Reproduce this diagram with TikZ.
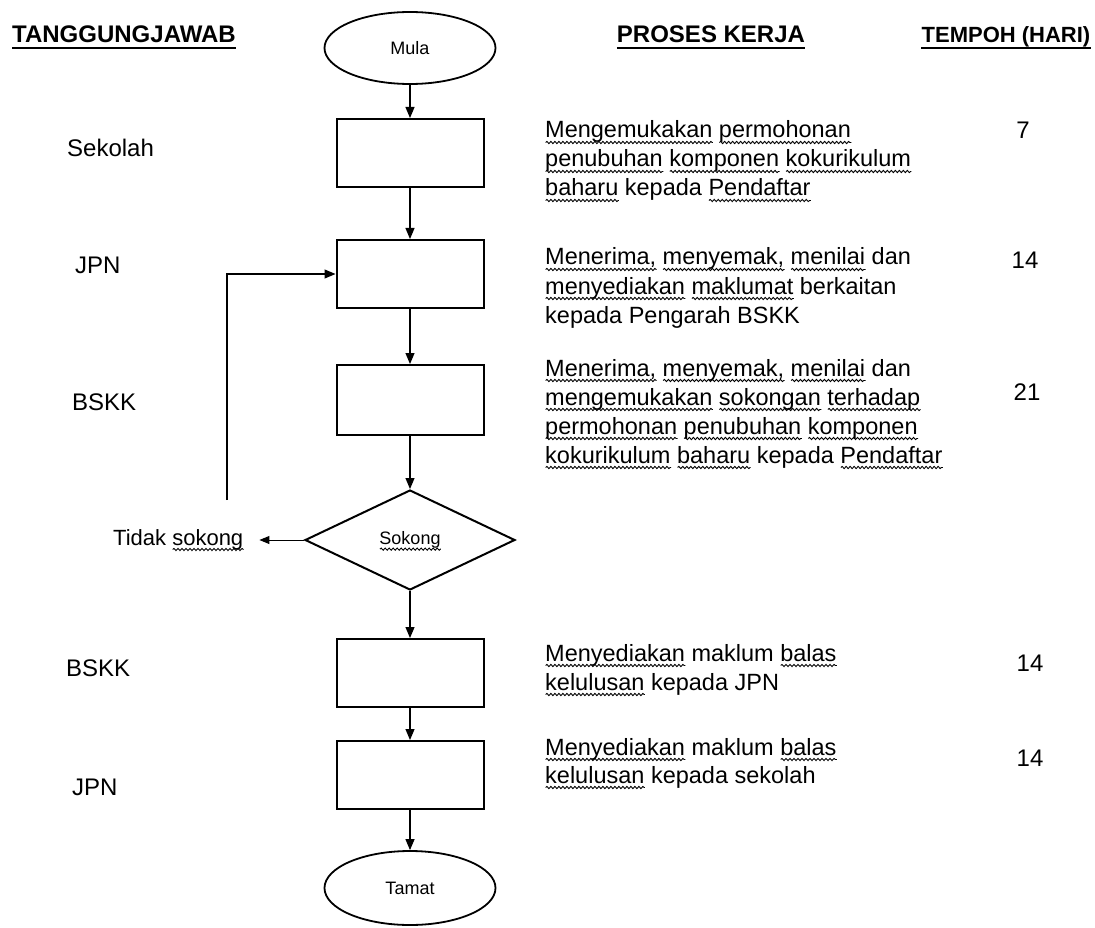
\documentclass[tikz,border=0pt]{standalone}
\usepackage{fontspec}
\setmainfont{Liberation Sans}
\usetikzlibrary{shapes.geometric,arrows.meta,decorations.pathmorphing}
\newsavebox\wvbox
\newcommand{\wv}[1]{\sbox\wvbox{#1}\leavevmode\rlap{\raisebox{-4.5pt}[0pt][0pt]{\tikz[baseline=0pt,x=1pt,y=1pt]\draw[line width=0.9pt,black,decorate,decoration={snake,amplitude=1.1pt,segment length=4pt}] (0,0) -- (\the\wd\wvbox,0);}}\usebox\wvbox}
\begin{document}
\begin{tikzpicture}[x=1pt,y=-1pt,
  lbl/.style={inner sep=0pt,anchor=base west,font=\fontsize{24}{29}\selectfont},
  hdr/.style={inner sep=0pt,font=\fontsize{24}{29}\selectfont\bfseries},
  txt/.style={inner sep=0pt,anchor=base west,font=\fontsize{23.5}{29}\selectfont},
  num/.style={inner sep=0pt,anchor=base,font=\fontsize{24}{29}\selectfont},
  proc/.style={draw,line width=2pt,minimum width=147pt,minimum height=68pt,inner sep=0pt},
  term/.style={draw,ellipse,line width=1.8pt,minimum width=171pt,minimum height=72pt,inner sep=0pt,font=\fontsize{18}{20}\selectfont},
  dec/.style={draw,diamond,line width=2pt,minimum width=210pt,minimum height=100pt,inner sep=0pt,font=\fontsize{18}{20}\selectfont},
  arr/.style={line width=1.2pt,-{Triangle[length=11pt,width=9pt]}},
  arrthin/.style={line width=1pt,-{Triangle[length=10pt,width=8pt]}},
  ul/.style={line width=1.6pt}]
\fill[white] (0,0) rectangle (1095,928);
\useasboundingbox (0,0) rectangle (1095,928);

% headers
\node[hdr,anchor=base west] (h1) at (12,42.5) {TANGGUNGJAWAB};
\node[hdr,anchor=base] (h2) at (711,42.5) {PROSES KERJA};
\node[hdr,anchor=base,font=\fontsize{22}{26}\selectfont\bfseries] (h3) at (1006,42.5) {TEMPOH (HARI)};
\draw[ul] ([yshift=-5.5pt]h1.base west) -- ([yshift=-5.5pt]h1.base east);
\draw[ul] ([yshift=-5.5pt]h2.base west) -- ([yshift=-5.5pt]h2.base east);
\draw[ul] ([yshift=-5.5pt]h3.base west) -- ([yshift=-5.5pt]h3.base east);

% flow shapes
\node[term] (mula) at (410,48) {Mula};
\node[proc] (b1) at (410,153) {};
\node[proc] (b2) at (410,274) {};
\node[proc,minimum height=70pt] (b3) at (410,400) {};
\node[dec] (dia) at (410,540) {\wv{Sokong}};
\node[proc] (b4) at (410,673) {};
\node[proc] (b5) at (410,775) {};
\node[term,minimum height=74pt] (tamat) at (410,888) {Tamat};

% left labels
\node[lbl] (l1) at (67,156.6) {Sekolah};
\node[lbl] (l2) at (75,273.6) {JPN};
\node[lbl] (l3) at (72,410.6) {BSKK};
\node[lbl] (l4) at (66,676.6) {BSKK};
\node[lbl] (l5) at (72,795.6) {JPN};
\node[lbl,font=\fontsize{22}{26}\selectfont] (tidak) at (113,545) {Tidak \wv{sokong}};

% connectors
\draw[arr] (mula) -- (b1);
\draw[arr] (b1) -- (b2);
\draw[arr] (b2) -- (b3);
\draw[arr] (b3) -- (dia);
\draw[arr] (dia) -- (b4);
\draw[arr] (b4) -- (b5);
\draw[arr] (b5) -- (tamat);
\draw[arrthin,shorten >=16pt] (dia.west) -- (dia.west -| tidak.east);
\coordinate (fb) at (227,500);
\draw[arr] (fb) |- (b2.west);

% process descriptions
\node[txt] (p1a) at (545,138) {\wv{Mengemukakan} \wv{permohonan}};
\node[txt] (p1b) at (545,167) {\wv{penubuhan} \wv{komponen} \wv{kokurikulum}};
\node[txt] (p1c) at (545,196) {\wv{baharu} kepada \wv{Pendaftar}};

\node[txt] (p2a) at (545,265) {\wv{Menerima,} \wv{menyemak,} \wv{menilai} dan};
\node[txt] (p2b) at (545,294) {\wv{menyediakan} \wv{maklumat} berkaitan};
\node[txt] (p2c) at (545,323) {kepada Pengarah BSKK};

\node[txt] (p3a) at (545,376) {\wv{Menerima,} \wv{menyemak,} \wv{menilai} dan};
\node[txt] (p3b) at (545,405) {\wv{mengemukakan} \wv{sokongan} \wv{terhadap}};
\node[txt] (p3c) at (545,434) {\wv{permohonan} \wv{penubuhan} \wv{komponen}};
\node[txt] (p3d) at (545,463) {\wv{kokurikulum} \wv{baharu} kepada \wv{Pendaftar}};

\node[txt] (p4a) at (545,661) {\wv{Menyediakan} maklum \wv{balas}};
\node[txt] (p4b) at (545,690) {\wv{kelulusan} kepada JPN};

\node[txt] (p5a) at (545,755) {\wv{Menyediakan} maklum \wv{balas}};
\node[txt] (p5b) at (545,783) {\wv{kelulusan} kepada sekolah};

% durations
\node[num] (d1) at (1023,138.5) {7};
\node[num] (d2) at (1025,268.5) {14};
\node[num] (d3) at (1027,400.5) {21};
\node[num] (d4) at (1030,671.5) {14};
\node[num] (d5) at (1030,766.5) {14};
\end{tikzpicture}
\end{document}
